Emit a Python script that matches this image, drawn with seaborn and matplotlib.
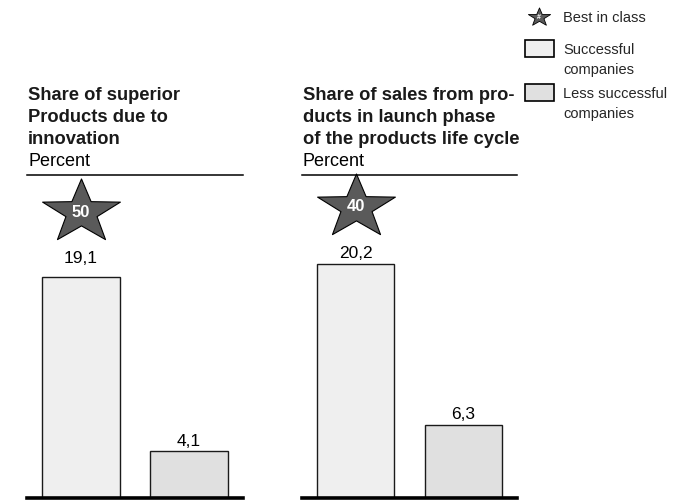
import matplotlib
matplotlib.use("Agg")
import matplotlib.pyplot as plt
from matplotlib.path import Path
from matplotlib.patches import Rectangle
import numpy as np
import pandas as pd
import seaborn as sns

# ---- data -------------------------------------------------------------
groups = ["Successful companies", "Less successful companies"]
superior_share = [19.1, 4.1]        # share of superior products due to innovation
launch_share = [20.2, 6.3]          # share of sales from products in launch phase
best_in_class = [50, 40]
panel_titles = [
    ["Share of superior", "Products due to", "innovation"],
    ["Share of sales from pro-", "ducts in launch phase", "of the products life cycle"],
]
unit_label = "Percent"
legend_labels = ["Best in class", ["Successful", "companies"], ["Less successful", "companies"]]

# ---- style ------------------------------------------------------------
bar_colors = ["#efefef", "#e0e0e0"]
star_color = "#5a5a5a"
W, H = 689, 501
PX_PER_UNIT = 11.57

sns.set_theme(style="white")
plt.rcParams["font.family"] = ["Liberation Sans", "DejaVu Sans"]

fig = plt.figure(figsize=(W / 100, H / 100), dpi=100)

# overlay in pixel coordinates for titles and the legend
ov = fig.add_axes([0, 0, 1, 1])
ov.set_xlim(0, W)
ov.set_ylim(H, 0)
ov.axis("off")


def star_path(inner=0.4, squash=0.82):
    ang = np.pi / 2 + np.arange(10) * np.pi / 5
    rad = np.where(np.arange(10) % 2 == 0, 1.0, inner)
    verts = np.column_stack([rad * np.cos(ang), rad * np.sin(ang) * squash])
    verts = np.vstack([verts, verts[0]])
    codes = [Path.MOVETO] + [Path.LINETO] * 9 + [Path.CLOSEPOLY]
    return Path(verts, codes)


STAR = star_path()

# layout of the two panels (pixels): axes x-range, title x, star centre y, label offsets
panels = [
    dict(x0=27, x1=243, title_x=28, star_y=212.5, label_off=[10, 3]),
    dict(x0=302, x1=517, title_x=303, star_y=207.0, label_off=[4.3, 4.3]),
]
ax_top, ax_bottom = 175, 498
values = [superior_share, launch_share]

for p, vals, best, title in zip(panels, values, best_in_class, panel_titles):
    ax = fig.add_axes([p["x0"] / W, 1 - ax_bottom / H,
                       (p["x1"] - p["x0"]) / W, (ax_bottom - ax_top) / H])
    df = pd.DataFrame({"group": groups, "value": vals})
    sns.barplot(data=df, x="group", y="value", hue="group", palette=bar_colors,
                width=0.72, edgecolor="#1a1a1a", linewidth=1.0, legend=False, ax=ax)
    ax.set_xlim(-0.5, 1.5)
    ax.set_ylim(0, (ax_bottom - ax_top) / PX_PER_UNIT)
    ax.set_xticks([])
    ax.set_yticks([])
    ax.set_xlabel("")
    ax.set_ylabel("")
    ax.patch.set_alpha(0)
    for side in ["left", "right"]:
        ax.spines[side].set_visible(False)
    ax.spines["bottom"].set_linewidth(2.6)
    ax.spines["bottom"].set_color("black")
    ax.spines["top"].set_linewidth(1.1)
    ax.spines["top"].set_color("black")

    # value labels
    for i, (v, off) in enumerate(zip(vals, p["label_off"])):
        ax.annotate(f"{v:.1f}".replace(".", ","), (i, v), xytext=(0, off),
                    textcoords="offset points", ha="center", va="baseline",
                    fontsize=12.5, color="black")

    # best-in-class star above the first bar
    sy = (ax_bottom - p["star_y"]) / (ax_bottom - ax_top)
    ax.plot([0], [sy], marker=STAR, ms=56, mfc=star_color, mec="black", mew=0.8,
            transform=ax.get_xaxis_transform(), clip_on=False)
    ax.text(0, sy, str(best), transform=ax.get_xaxis_transform(), ha="center",
            va="center", fontsize=12, fontweight="bold", color="white")

    # panel title
    for k, line in enumerate(title):
        ov.text(p["title_x"], 100 + 22 * k, line, fontsize=13.2, fontweight="bold",
                ha="left", va="baseline", color="#1a1a1a")
    ov.text(p["title_x"], 166, unit_label, fontsize=13, ha="left", va="baseline",
            color="black")

# ---- legend -----------------------------------------------------------
lx_icon, lx_text = 539, 563
ov.plot([lx_icon], [17], marker=STAR, ms=16, mfc=star_color, mec="black", mew=0.6)
ov.text(lx_icon, 17.5, "#", fontsize=5, color="white", ha="center", va="center",
        fontweight="bold")
ov.text(lx_text, 22, legend_labels[0], fontsize=10.5, ha="left", va="baseline")

box_tops = [40, 84]
for top, col, lab in zip(box_tops, bar_colors, legend_labels[1:]):
    ov.add_patch(Rectangle((525, top), 29, 17, facecolor=col, edgecolor="black",
                           linewidth=1.2))
    for k, line in enumerate(lab):
        ov.text(lx_text, top + 14 + 20 * k, line, fontsize=10.5, ha="left",
                va="baseline")

fig.savefig("out.png", dpi=100)
